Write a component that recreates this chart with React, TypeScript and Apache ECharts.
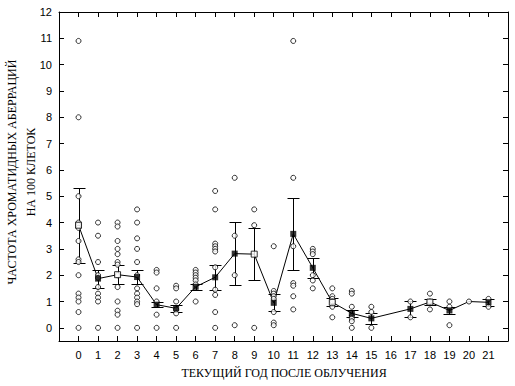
import React, { useEffect, useRef } from "react";
import * as echarts from "echarts";

// Years after irradiation (no data for year 16)
const years = [0, 1, 2, 3, 4, 5, 6, 7, 8, 9, 10, 11, 12, 13, 14, 15, 17, 18, 19, 20, 21];
// Group means
const means = [3.9, 1.87, 2.02, 1.93, 0.88, 0.74, 1.56, 1.92, 2.82, 2.8, 0.95, 3.57, 2.28, 0.97, 0.55, 0.36, 0.72, 0.98, 0.66, 1.0, 0.97];
// Standard errors (symmetric)
const errors = [1.42, 0.34, 0.35, 0.26, 0.1, 0.13, 0.12, 0.47, 1.2, 1.0, 0.32, 1.37, 0.38, 0.15, 0.12, 0.2, 0.29, 0.13, 0.14, 0, 0.13];
// Years whose mean marker is drawn as an open square
const openYears = [0, 2, 9, 13, 18];
// Individual observations per year
const observations: number[][] = [
  [10.9, 8.0, 5.0, 4.0, 3.9, 3.8, 3.3, 2.6, 2.5, 2.0, 1.3, 1.15, 1.0, 0.6, 0],
  [4.0, 3.5, 2.5, 2.0, 1.9, 1.55, 1.3, 1.15, 1.0, 0],
  [4.0, 3.85, 3.3, 3.0, 2.8, 2.5, 2.4, 2.0, 1.55, 1.0, 0.65, 0.5, 0],
  [4.5, 4.0, 3.4, 3.0, 2.5, 2.0, 1.5, 1.3, 1.15, 1.0, 0.9, 0],
  [2.2, 2.1, 1.5, 1.0, 0.5, 0],
  [1.6, 1.5, 1.0, 0.7, 0.55, 0],
  [2.2, 2.1, 2.0, 1.9, 1.8, 1.65, 1.0],
  [5.2, 4.5, 3.2, 3.1, 3.0, 2.9, 2.3, 1.45, 1.25, 0.6, 0],
  [5.7, 3.5, 2.0, 0.1],
  [4.5, 3.9, 0],
  [3.1, 1.4, 1.3, 1.2, 1.1, 0.6, 0.2, 0.1],
  [10.9, 5.7, 3.1, 1.7, 1.6, 1.2, 0.7],
  [3.0, 2.9, 2.8, 2.0, 1.8, 1.5],
  [1.5, 1.2, 1.1, 1.0, 0.8, 0.4],
  [1.4, 1.3, 0.8, 0.45, 0.35, 0.25, 0],
  [0.8, 0.6, 0],
  [1.0, 0.4],
  [1.3, 1.0, 0.7],
  [1.0, 0.8, 0.1],
  [1.0],
  [1.1, 0.8],
];
const yTicks = [0, 1, 2, 3, 4, 5, 6, 7, 8, 9, 10, 11, 12];
const yTitle1 = "ЧАСТОТА ХРОМАТИДНЫХ АБЕРРАЦИЙ";
const yTitle2 = "НА 100 КЛЕТОК";
const xTitle = "ТЕКУЩИЙ ГОД ПОСЛЕ ОБЛУЧЕНИЯ";

export default function App() {
  const ref = useRef<HTMLDivElement>(null);
  useEffect(() => {
    if (!ref.current) return;
    const chart = echarts.init(ref.current, undefined, { renderer: "svg" });

    const obsData: number[][] = [];
    years.forEach((y, i) => observations[i].forEach((v) => obsData.push([y, v])));
    const lineData = years.map((y, i) => [y, means[i]]);
    const filled = years.map((y, i) => [y, means[i]]).filter((d) => !openYears.includes(d[0]) && d[0] !== 20);
    const open = years.map((y, i) => [y, means[i]]).filter((d) => openYears.includes(d[0]));
    const errData = years
      .map((y, i) => [y, means[i] - errors[i], means[i] + errors[i]])
      .filter((_, i) => errors[i] > 0);

    const labelFont = { fontFamily: "Liberation Sans, Arial, sans-serif", fontSize: 11, color: "#000" };
    const axisLine = { show: true, onZero: false, lineStyle: { color: "#000", width: 1 } };
    const tick = { show: true, inside: true, length: 5, lineStyle: { color: "#000" } };

    chart.setOption({
      animation: false,
      backgroundColor: "#fff",
      grid: { left: 59, right: 7, top: 12, bottom: 45, containLabel: false },
      xAxis: [
        {
          type: "value",
          min: -1,
          max: 22,
          interval: 1,
          position: "bottom",
          axisLine,
          axisTick: tick,
          splitLine: { show: false },
          axisLabel: {
            ...labelFont,
            margin: 8,
            formatter: (v: number) => (v < 0 || v > 21 ? "" : String(v)),
          },
        },
        {
          type: "value",
          min: -1,
          max: 22,
          interval: 1,
          position: "top",
          axisLine,
          axisTick: tick,
          splitLine: { show: false },
          axisLabel: { show: false },
        },
      ],
      yAxis: [
        {
          type: "value",
          min: -0.5,
          max: 12,
          position: "left",
          axisLine,
          axisTick: { ...tick, customValues: yTicks },
          splitLine: { show: false },
          axisLabel: { ...labelFont, margin: 7, customValues: yTicks },
        },
        {
          type: "value",
          min: -0.5,
          max: 12,
          position: "right",
          axisLine,
          axisTick: { ...tick, customValues: yTicks },
          splitLine: { show: false },
          axisLabel: { show: false },
        },
      ],
      graphic: [
        {
          type: "text",
          x: 12,
          y: 172,
          rotation: Math.PI / 2,
          style: {
            text: yTitle1,
            font: "12px 'Liberation Serif', 'Times New Roman', serif",
            fill: "#000",
            align: "center",
            verticalAlign: "middle",
          },
        },
        {
          type: "text",
          x: 31,
          y: 172,
          rotation: Math.PI / 2,
          style: {
            text: yTitle2,
            font: "12px 'Liberation Serif', 'Times New Roman', serif",
            fill: "#000",
            align: "center",
            verticalAlign: "middle",
          },
        },
        {
          type: "text",
          x: 284,
          y: 373,
          style: {
            text: xTitle,
            font: "12px 'Liberation Serif', 'Times New Roman', serif",
            fill: "#000",
            align: "center",
            verticalAlign: "middle",
          },
        },
      ],
      series: [
        {
          type: "line",
          data: lineData,
          showSymbol: false,
          symbol: "none",
          lineStyle: { color: "#000", width: 1 },
          z: 2,
        },
        {
          type: "custom",
          data: errData,
          z: 3,
          renderItem: (params: any, api: any) => {
            const x = api.value(0);
            const lo = api.value(1);
            const hi = api.value(2);
            const pHi = api.coord([x, hi]);
            const pLo = api.coord([x, lo]);
            const cx = Math.round(pHi[0]) + 0.5;
            const yh = Math.round(pHi[1]) + 0.5;
            const yl = Math.round(pLo[1]) + 0.5;
            const w = 6;
            const st = { stroke: "#000", lineWidth: 1 };
            return {
              type: "group",
              children: [
                { type: "line", shape: { x1: cx, y1: yh, x2: cx, y2: yl }, style: st },
                { type: "line", shape: { x1: cx - w, y1: yh, x2: cx + w, y2: yh }, style: st },
                { type: "line", shape: { x1: cx - w, y1: yl, x2: cx + w, y2: yl }, style: st },
              ],
            };
          },
        },
        {
          type: "scatter",
          data: obsData,
          symbol: "circle",
          symbolSize: 5,
          itemStyle: { color: "#fff", borderColor: "#000", borderWidth: 1 },
          z: 4,
        },
        {
          type: "scatter",
          data: filled,
          symbol: "rect",
          symbolSize: 6,
          itemStyle: { color: "#000", borderColor: "#000", borderWidth: 0 },
          z: 5,
        },
        {
          type: "scatter",
          data: open,
          symbol: "rect",
          symbolSize: 6,
          itemStyle: { color: "#fff", borderColor: "#000", borderWidth: 1 },
          z: 5,
        },
      ],
    });
    return () => chart.dispose();
  }, []);

  return (
    <div
      ref={ref}
      style={{ position: "absolute", left: 0, top: 0, width: 515, height: 386, background: "#fff" }}
    />
  );
}
